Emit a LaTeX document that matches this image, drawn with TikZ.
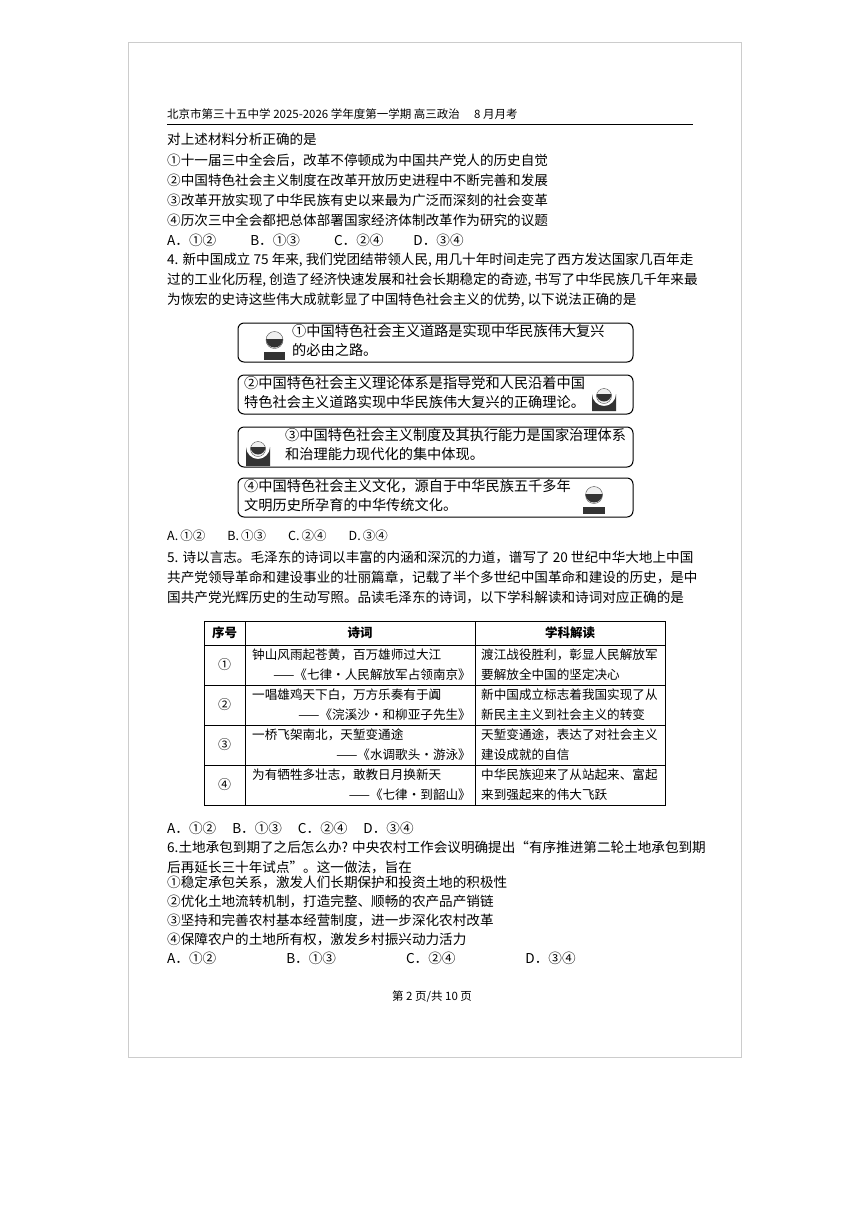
\documentclass[tikz,border=0pt]{standalone}
\usepackage{fontspec}
\setmainfont{Noto Sans CJK SC}
\begin{document}
\begin{tikzpicture}[x=1pt,y=-1pt,
 t/.style={anchor=west,inner sep=0pt,font=\fontsize{13.6}{16}\selectfont},
 bt/.style={anchor=north west,inner sep=0pt,align=left,font=\fontsize{14.2}{19.5}\selectfont},
 tt/.style={anchor=west,inner sep=0pt,font=\fontsize{12.6}{15}\selectfont},
 box/.style={draw,line width=1pt,rounded corners=6pt},
 skin/.style={fill=black!6,draw=black!70,line width=0.4pt},
 face/.style={fill=black!80}]
\useasboundingbox (0,0) rectangle (867,1227);
\fill[white] (0,0) rectangle (867,1227);
\draw[black!20] (128,42) rectangle (741,1057);
\node[t,font=\fontsize{11.5}{14}\selectfont] (hd) at (167,114) {北京市第三十五中学 2025-2026 学年度第一学期\ 高三政治\quad\ 8 月月考};
\draw[line width=0.8pt] (167,124) -- (693,124);
\node[t] (l1) at (167,139) {对上述材料分析正确的是};
\node[t] (l2) at (167,160) {①十一届三中全会后，改革不停顿成为中国共产党人的历史自觉};
\node[t] (l3) at (167,180) {②中国特色社会主义制度在改革开放历史进程中不断完善和发展};
\node[t] (l4) at (167,200) {③改革开放实现了中华民族有史以来最为广泛而深刻的社会变革};
\node[t] (l5) at (167,220) {④历次三中全会都把总体部署国家经济体制改革作为研究的议题};
\node[t] (a1) at (167,240) {A．①②\hspace{34pt}B．①③\hspace{34pt}C．②④\hspace{30pt}D．③④};
\node[t] (q4a) at (167,260) {4. 新中国成立 75 年来, 我们党团结带领人民, 用几十年时间走完了西方发达国家几百年走};
\node[t] (q4b) at (167,280) {过的工业化历程, 创造了经济快速发展和社会长期稳定的奇迹, 书写了中华民族几千年来最};
\node[t] (q4c) at (167,300) {为恢宏的史诗这些伟大成就彰显了中国特色社会主义的优势, 以下说法正确的是};
% boxes
\draw[box] (238,323) rectangle (633,362);
\draw[box] (238,375) rectangle (633,414);
\draw[box] (238,427) rectangle (633,467);
\draw[box] (238,478) rectangle (633,517);
\node[bt] (b1) at (292,324) {①中国特色社会主义道路是实现中华民族伟大复兴\\的必由之路。};
\node[bt] (b2) at (244,376) {②中国特色社会主义理论体系是指导党和人民沿着中国\\特色社会主义道路实现中华民族伟大复兴的正确理论。};
\node[bt] (b3) at (285,428) {③中国特色社会主义制度及其执行能力是国家治理体系\\和治理能力现代化的集中体现。};
\node[bt] (b4) at (244,479) {④中国特色社会主义文化，源自于中华民族五千多年\\文明历史所孕育的中华传统文化。};
% faces: man 1
\fill[face] (264,360) rectangle (285,352);
\fill[skin] (274.5,340) circle (8.5);
\fill[face] (266,339) arc (180:0:8.5) -- cycle;
% woman 2
\fill[face] (592,411) -- (592,394) arc (180:0:12) -- (616,411) -- cycle;
\fill[skin] (604,396) circle (7.5);
\fill[face] (596.5,394) arc (180:0:7.5) -- cycle;
% woman 3
\fill[face] (246,466) -- (246,447) arc (180:0:12) -- (270,466) -- cycle;
\fill[skin] (258,449) circle (7.5);
\fill[face] (250.5,447) arc (180:0:7.5) -- cycle;
% man 4
\fill[face] (583,514) rectangle (605,507);
\fill[skin] (594,495) circle (8.5);
\fill[face] (585.5,494) arc (180:0:8.5) -- cycle;
\node[t,font=\fontsize{12.5}{15}\selectfont] (a2) at (167,536) {A.\,①②\hspace{22pt}B.\,①③\hspace{22pt}C.\,②④\hspace{22pt}D.\,③④};
\node[t] (q5a) at (167,557) {5. 诗以言志。毛泽东的诗词以丰富的内涵和深沉的力道，谱写了\ 20\ 世纪中华大地上中国};
\node[t] (q5b) at (167,577) {共产党领导革命和建设事业的壮丽篇章，记载了半个多世纪中国革命和建设的历史，是中};
\node[t] (q5c) at (167,597) {国共产党光辉历史的生动写照。品读毛泽东的诗词，以下学科解读和诗词对应正确的是};
% table
\draw[line width=0.9pt] (204,621) rectangle (665,805);
\foreach \y in {645,685,725,765} \draw[line width=0.7pt] (204,\y) -- (665,\y);
\draw[line width=0.7pt] (245,621) -- (245,805);
\draw[line width=0.7pt] (475,621) -- (475,805);
\node[font=\fontsize{12.5}{15}\selectfont\bfseries] (h1) at (224.5,633) {序号};
\node[font=\fontsize{12.5}{15}\selectfont\bfseries] (h2) at (360,633) {诗词};
\node[font=\fontsize{12.5}{15}\selectfont\bfseries] (h3) at (570,633) {学科解读};
\foreach \n/\y in {①/665,②/705,③/745,④/785} \node[font=\fontsize{13}{15}\selectfont] at (224.5,\y) {\n};
\node[tt] at (252,655) {钟山风雨起苍黄，百万雄师过大江};
\node[tt,anchor=east] at (471,675) {——《七律·人民解放军占领南京》};
\node[tt] at (252,695) {一唱雄鸡天下白，万方乐奏有于阗};
\node[tt,anchor=east] at (471,715) {——《浣溪沙·和柳亚子先生》};
\node[tt] at (252,735) {一桥飞架南北，天堑变通途};
\node[tt,anchor=east] at (471,755) {——《水调歌头·游泳》};
\node[tt] at (252,775) {为有牺牲多壮志，敢教日月换新天};
\node[tt,anchor=east] at (471,795) {——《七律·到韶山》};
\node[tt] at (481,655) {渡江战役胜利，彰显人民解放军};
\node[tt] at (481,675) {要解放全中国的坚定决心};
\node[tt] at (481,695) {新中国成立标志着我国实现了从};
\node[tt] at (481,715) {新民主主义到社会主义的转变};
\node[tt] at (481,735) {天堑变通途，表达了对社会主义};
\node[tt] at (481,755) {建设成就的自信};
\node[tt] at (481,775) {中华民族迎来了从站起来、富起};
\node[tt] at (481,795) {来到强起来的伟大飞跃};
\node[t] (a3) at (167,828) {A．①②\hspace{16pt}B．①③\hspace{16pt}C．②④\hspace{16pt}D．③④};
\node[t] (q6a) at (167,847) {6.土地承包到期了之后怎么办? 中央农村工作会议明确提出“有序推进第二轮土地承包到期};
\node[t] (q6b) at (167,867) {后再延长三十年试点”。这一做法，旨在};
\node[t] (o1) at (167,882) {①稳定承包关系，激发人们长期保护和投资土地的积极性};
\node[t] (o2) at (167,901) {②优化土地流转机制，打造完整、顺畅的农产品产销链};
\node[t] (o3) at (167,920) {③坚持和完善农村基本经营制度，进一步深化农村改革};
\node[t] (o4) at (167,939) {④保障农户的土地所有权，激发乡村振兴动力活力};
\node[t] (a4) at (167,958) {A．①②\hspace{70pt}B．①③\hspace{70pt}C．②④\hspace{70pt}D．③④};
\node[font=\fontsize{11.5}{14}\selectfont] (ft) at (432,997) {第 2 页/共 10 页};
\end{tikzpicture}
\end{document}
